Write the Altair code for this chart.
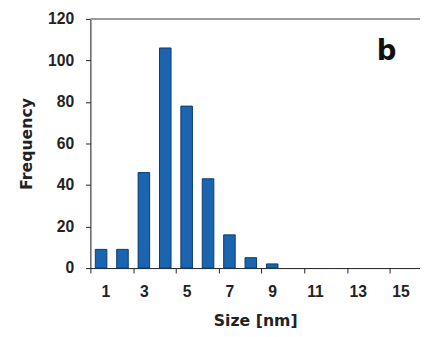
import altair as alt
import pandas as pd

sizes = list(range(1, 16))
freq = [9, 9, 46, 106, 78, 43, 16, 5, 2, 0, 0, 0, 0, 0, 0]
y_ticks = [0, 20, 40, 60, 80, 100, 120]
x_tick_bounds = [i + 0.5 for i in range(0, 16)]
panel_label = "b"

df = pd.DataFrame({"size": sizes, "freq": freq})

TFONT = "DejaVu Sans"
LFONT = "Liberation Sans"
W, H = 336, 254

base = alt.Chart(df)

xscale = alt.Scale(domain=[0.5, 15.91], nice=False, zero=False)
yscale = alt.Scale(domain=[0, 120], nice=False)

bars = base.transform_filter("datum.freq > 0").transform_calculate(
    x0="datum.size - 0.27", x1="datum.size + 0.27"
).mark_rect(color="#1a64b0", stroke="#0b3a6e", strokeWidth=1).encode(
    x=alt.X("x0:Q", scale=xscale,
            axis=alt.Axis(values=x_tick_bounds,
                          labelExpr="(datum.value + 0.5) % 2 == 1 ? format(datum.value + 0.5, 'd') : ''",
                          labelOffset=10.9, tickSize=5, tickColor="#222", domainColor="#222",
                          labelFont=LFONT, labelFontSize=16, labelFontWeight="bold", labelColor="#222",
                          labelPadding=11, grid=False,
                          title="Size [nm]", titleFont=TFONT, titleFontSize=16, titleFontWeight="bold",
                          titleColor="#222", titlePadding=14)),
    x2="x1:Q",
    y=alt.Y("freq:Q", scale=yscale,
            axis=alt.Axis(values=y_ticks, tickSize=5, tickColor="#222", domainColor="#222",
                          labelFont=LFONT, labelFontSize=16, labelFontWeight="bold", labelColor="#222",
                          labelPadding=12, grid=False,
                          title="Frequency", titleFont=TFONT, titleFontSize=16, titleFontWeight="bold",
                          titleColor="#222", titlePadding=13)),
    y2=alt.datum(0),
)

top_line = alt.Chart(pd.DataFrame({"y": [120]})).mark_rule(color="#9a9a9a", strokeWidth=2).encode(
    y=alt.Y("y:Q", scale=yscale)
)

label = alt.Chart(pd.DataFrame({"x": [14.35], "y": [104], "t": [panel_label]})).mark_text(
    font=TFONT, fontSize=28, fontWeight="bold", color="#111", baseline="middle", align="center"
).encode(
    x=alt.X("x:Q", scale=xscale),
    y=alt.Y("y:Q", scale=yscale),
    text="t:N",
)

chart = alt.layer(bars, top_line, label).properties(
    width=W, height=H,
    autosize=alt.AutoSizeParams(type="none"),
    padding={"left": 84, "top": 8, "right": 0, "bottom": 60},
).configure_view(stroke=None).configure(background="white")

chart.save("out.html", embed_options={"renderer": "svg", "actions": False})
